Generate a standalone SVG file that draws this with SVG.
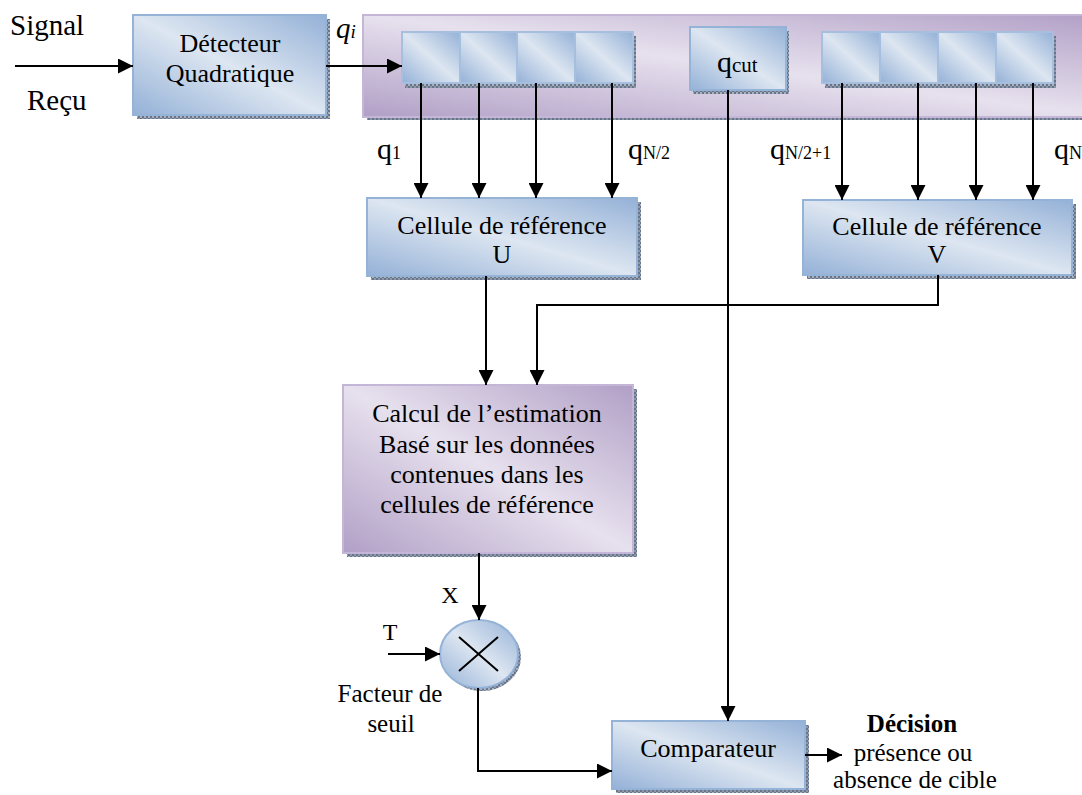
<svg xmlns="http://www.w3.org/2000/svg" width="1082" height="795" viewBox="0 0 1082 795">
  <style>
    .t { font-family: "Liberation Serif", "Times New Roman", serif; font-size: 26px; fill: #000; }
    .big { font-size: 29px; }
    .q { font-size: 30px; }
    .sub { font-size: 18px; }
    .blue { fill: url(#blueGrad); stroke: #95b3d7; stroke-width: 2; }
    .cell { fill: url(#blueGrad); stroke: #a6bfdf; stroke-width: 2; }
    .purple { fill: url(#purpleGrad); stroke: #c4b6d6; stroke-width: 2; }
    .shadow { fill: url(#hatch); }
    .wire { fill: none; stroke: #000; stroke-width: 2; }
    .arrow { fill: none; stroke: #000; stroke-width: 2; marker-end: url(#arr); }
  </style>
  <defs>
    <linearGradient id="blueGrad" x1="1" y1="0" x2="0" y2="1">
      <stop offset="0" stop-color="#94b1d7"/>
      <stop offset="0.5" stop-color="#dde6f1"/>
      <stop offset="1" stop-color="#94b1d7"/>
    </linearGradient>
    <linearGradient id="purpleGrad" x1="1" y1="0" x2="0" y2="1">
      <stop offset="0" stop-color="#b19fc6"/>
      <stop offset="0.5" stop-color="#e7e1ee"/>
      <stop offset="1" stop-color="#b19fc6"/>
    </linearGradient>
    <pattern id="hatch" width="4" height="4" patternUnits="userSpaceOnUse">
      <rect width="4" height="4" fill="#66758b"/>
      <rect width="2" height="2" fill="#a9b1bd"/>
      <rect x="2" y="2" width="2" height="2" fill="#8e98a8"/>
    </pattern>
    <marker id="arr" viewBox="0 0 10 10" refX="10" refY="5" markerWidth="15" markerHeight="15" markerUnits="userSpaceOnUse" orient="auto">
      <path d="M0,0 L10,5 L0,10 z" fill="#000"/>
    </marker>
  </defs>

  <rect width="1082" height="795" fill="#fff"/>

  <!-- input labels -->
  <g id="input">
    <text class="t big" x="10" y="35">Signal</text>
    <text class="t big" x="27" y="110">Reçu</text>
  </g>

  <!-- square-law detector -->
  <g id="detecteur">
    <rect class="shadow" x="137" y="19" width="193" height="100"/>
    <rect class="blue" x="133" y="15" width="193" height="100"/>
    <text class="t" x="230" y="52" text-anchor="middle">Détecteur</text>
    <text class="t" x="230" y="82" text-anchor="middle">Quadratique</text>
  </g>

  <text id="qi" class="t" x="336" y="38" font-style="italic" style="font-size:29px">q<tspan style="font-size:19px">i</tspan></text>

  <!-- shift register panel -->
  <g id="registre">
    <rect class="shadow" x="367" y="19" width="740" height="101"/>
    <rect class="purple" x="363" y="15" width="740" height="102"/>
  </g>

  <g id="cellules-gauche">
    <rect class="shadow" x="405" y="36" width="231" height="52"/>
    <rect class="cell" x="402" y="32" width="58" height="51"/>
    <rect class="cell" x="460" y="32" width="57" height="51"/>
    <rect class="cell" x="517" y="32" width="58" height="51"/>
    <rect class="cell" x="575" y="32" width="58" height="51"/>
  </g>

  <g id="qcut">
    <rect class="shadow" x="693" y="31" width="96" height="63"/>
    <rect class="blue" x="690" y="27" width="96" height="63"/>
    <text class="t" x="717" y="72"><tspan class="q">q</tspan><tspan style="font-size:21px">cut</tspan></text>
  </g>

  <g id="cellules-droite">
    <rect class="shadow" x="825" y="36" width="231" height="52"/>
    <rect class="cell" x="822" y="32" width="58" height="51"/>
    <rect class="cell" x="880" y="32" width="58" height="51"/>
    <rect class="cell" x="938" y="32" width="58" height="51"/>
    <rect class="cell" x="996" y="32" width="57" height="51"/>
  </g>

  <!-- cell labels -->
  <g id="labels-q">
    <text class="t" x="377" y="159"><tspan class="q">q</tspan><tspan class="sub">1</tspan></text>
    <text class="t" x="628" y="159"><tspan class="q">q</tspan><tspan class="sub">N/2</tspan></text>
    <text class="t" x="770" y="159"><tspan class="q">q</tspan><tspan class="sub">N/2+1</tspan></text>
    <text class="t" x="1054" y="159"><tspan class="q">q</tspan><tspan class="sub">N</tspan></text>
  </g>

  <g id="cellule-U">
    <rect class="shadow" x="371" y="202" width="270" height="78"/>
    <rect class="blue" x="367" y="198" width="270" height="78"/>
    <text class="t" x="502" y="234" text-anchor="middle">Cellule de référence</text>
    <text class="t" x="502" y="263" text-anchor="middle">U</text>
  </g>

  <g id="cellule-V">
    <rect class="shadow" x="807" y="204" width="269" height="75"/>
    <rect class="blue" x="803" y="200" width="269" height="75"/>
    <text class="t" x="937" y="235" text-anchor="middle">Cellule de référence</text>
    <text class="t" x="937" y="263" text-anchor="middle">V</text>
  </g>

  <g id="estimation">
    <rect class="shadow" x="347" y="389" width="290" height="168"/>
    <rect class="purple" x="343" y="385" width="290" height="168"/>
    <text class="t" x="487" y="422" text-anchor="middle">Calcul de l’estimation</text>
    <text class="t" x="487" y="453" text-anchor="middle">Basé sur les données</text>
    <text class="t" x="487" y="483" text-anchor="middle">contenues dans les</text>
    <text class="t" x="487" y="513" text-anchor="middle">cellules de référence</text>
  </g>

  <g id="multiplicateur">
    <ellipse class="shadow" cx="482" cy="657" rx="39" ry="34"/>
    <ellipse class="blue" cx="479" cy="654" rx="39" ry="34"/>
    <path class="wire" d="M459,637 L498,671 M498,637 L459,671"/>
    <text class="t" x="450" y="603" text-anchor="middle" style="font-size:24px">X</text>
    <text class="t" x="390" y="640" text-anchor="middle" style="font-size:24px">T</text>
    <text class="t" x="390" y="702" text-anchor="middle" style="font-size:25px">Facteur de</text>
    <text class="t" x="391" y="732" text-anchor="middle" style="font-size:25px">seuil</text>
  </g>

  <g id="comparateur">
    <rect class="shadow" x="616" y="725" width="193" height="68"/>
    <rect class="blue" x="612" y="721" width="193" height="68"/>
    <text class="t" x="708" y="757" text-anchor="middle">Comparateur</text>
  </g>

  <g id="decision">
    <text class="t" x="912" y="732" text-anchor="middle" font-weight="bold" style="font-size:25px">Décision</text>
    <text class="t" x="913" y="761" text-anchor="middle" style="font-size:25px">présence ou</text>
    <text class="t" x="915" y="788" text-anchor="middle" style="font-size:25px">absence de cible</text>
  </g>

  <!-- connectors -->
  <g id="connecteurs">
    <path class="arrow" d="M15,66 H133"/>
    <path class="arrow" d="M326,66 H402"/>
    <path class="arrow" d="M421,83 V198"/>
    <path class="arrow" d="M479,83 V198"/>
    <path class="arrow" d="M536,83 V198"/>
    <path class="arrow" d="M612,83 V198"/>
    <path class="arrow" d="M842,83 V200"/>
    <path class="arrow" d="M918,83 V200"/>
    <path class="arrow" d="M976,83 V200"/>
    <path class="arrow" d="M1033,83 V200"/>
    <path class="arrow" d="M728,90 V721"/>
    <path class="arrow" d="M486,276 V385"/>
    <path class="arrow" d="M938,275 V305 H537 V385"/>
    <path class="arrow" d="M479,553 V620"/>
    <path class="arrow" d="M388,654 H440"/>
    <path class="arrow" d="M478,688 V771 H612"/>
    <path class="arrow" d="M805,755 H842"/>
  </g>
</svg>
